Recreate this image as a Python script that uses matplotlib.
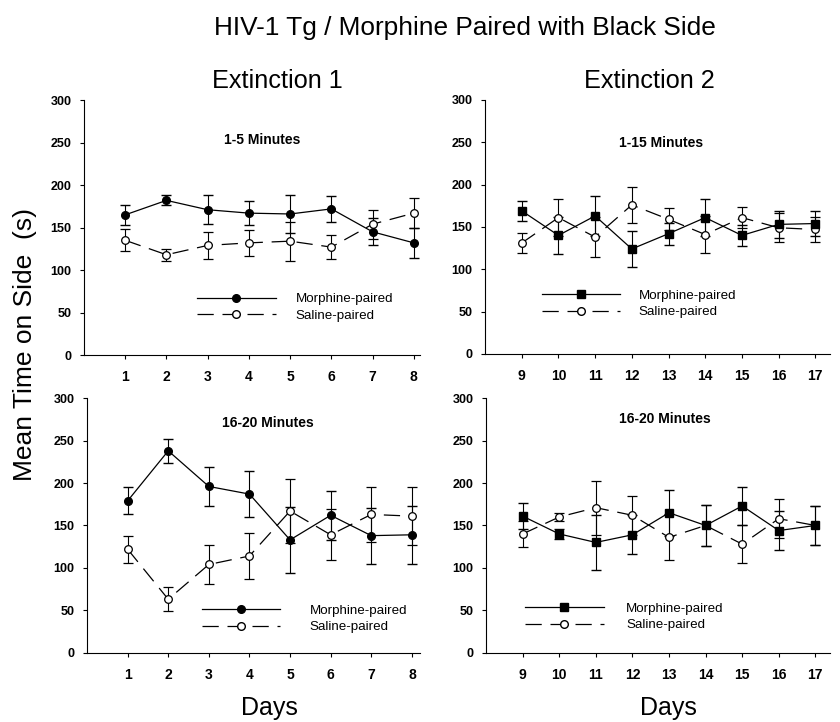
import numpy as np
import matplotlib
matplotlib.use("Agg")
import matplotlib.pyplot as plt
from matplotlib.lines import Line2D

plt.rcParams['font.family'] = ['Liberation Sans', 'DejaVu Sans']

# data
days_ext1 = [1, 2, 3, 4, 5, 6, 7, 8]
days_ext2 = [9, 10, 11, 12, 13, 14, 15, 16, 17]

# Extinction 1, 1-5 minutes
e1a_morph = [165, 182, 171, 167, 166, 172, 145, 132]
e1a_morph_err = [12, 6, 17, 14, 22, 15, 16, 18]
e1a_sal = [135, 118, 129, 132, 134, 127, 154, 167]
e1a_sal_err = [13, 7, 16, 15, 23, 14, 17, 18]

# Extinction 2, 1-15 minutes
e2a_morph = [169, 140, 163, 124, 142, 161, 140, 153, 154]
e2a_morph_err = [12, 22, 24, 21, 13, 22, 12, 16, 15]
e2a_sal = [131, 161, 138, 176, 159, 141, 161, 149, 147]
e2a_sal_err = [12, 22, 24, 21, 13, 22, 12, 17, 15]

# Extinction 1, 16-20 minutes
e1b_morph = [179, 238, 196, 187, 133, 162, 138, 139]
e1b_morph_err = [16, 14, 23, 27, 39, 29, 33, 34]
e1b_sal = [122, 63, 104, 114, 167, 139, 163, 161]
e1b_sal_err = [16, 14, 23, 27, 38, 30, 32, 34]

# Extinction 2, 16-20 minutes
e2b_morph = [161, 140, 130, 139, 165, 150, 173, 144, 150]
e2b_morph_err = [15, 6, 32, 23, 27, 24, 22, 23, 23]
e2b_sal = [140, 160, 171, 162, 136, 150, 128, 158, 150]
e2b_sal_err = [15, 5, 32, 23, 27, 24, 22, 23, 23]

yticks = [0, 50, 100, 150, 200, 250, 300]
series_names = ['Morphine-paired', 'Saline-paired']

fig = plt.figure(figsize=(8.4, 7.22), dpi=100)

# rect, days, morph, err, saline, err, subtitle, subtitle pos, marker, xlim, legend anchor, text pad
panels = [
    ([0.100, 0.5083, 0.400, 0.353], days_ext1, e1a_morph, e1a_morph_err, e1a_sal, e1a_sal_err,
     "1-5 Minutes", (0.531, 0.843), 'o', (0, 8.15), (0.336, 0.187), 1.5),
    ([0.5774, 0.5097, 0.4107, 0.352], days_ext2, e2a_morph, e2a_morph_err, e2a_sal, e2a_sal_err,
     "1-15 Minutes", (0.51, 0.83), 's', (8, 17.4), (0.164, 0.197), 1.4),
    ([0.1036, 0.096, 0.3964, 0.3524], days_ext1, e1b_morph, e1b_morph_err, e1b_sal, e1b_sal_err,
     "16-20 Minutes", (0.544, 0.902), 'o', (0, 8.2), (0.344, 0.132), 2.2),
    ([0.5786, 0.096, 0.4095, 0.3524], days_ext2, e2b_morph, e2b_morph_err, e2b_sal, e2b_sal_err,
     "16-20 Minutes", (0.519, 0.917), 's', (8, 17.4), (0.113, 0.140), 1.7),
]

dash = (0, (13, 7))

for rect, x, m, me, s, se, sub, subpos, mk, xl, anc, tpad in panels:
    ax = fig.add_axes(rect)
    ax.errorbar(x, s, yerr=se, color='black', lw=0.9, ls=dash, marker='o',
                ms=5.5, mfc='white', mec='black', mew=0.9, capsize=3.5, elinewidth=0.8)
    ax.errorbar(x, m, yerr=me, color='black', lw=0.9, ls='-', marker=mk,
                ms=5.5, mfc='black', mec='black', capsize=3.5, elinewidth=0.8)
    ax.set_xlim(*xl)
    ax.set_ylim(0, 300)
    ax.set_xticks(x)
    ax.set_yticks(yticks)
    ax.tick_params(axis='x', length=3, pad=8, labelsize=10, direction='out')
    ax.tick_params(axis='y', length=3, pad=6, labelsize=9, direction='out')
    for lab in ax.get_xticklabels() + ax.get_yticklabels():
        lab.set_fontweight('bold')
    for sp in ['top', 'right']:
        ax.spines[sp].set_visible(False)
    ax.text(subpos[0], subpos[1], sub, transform=ax.transAxes, ha='center', va='center',
            fontsize=10, fontweight='bold')
    handles = [
        Line2D([], [], color='black', lw=0.9, marker=mk, ms=5.5, mfc='black'),
        Line2D([], [], color='black', lw=0.9, ls=dash, marker='o', ms=5.5,
               mfc='white', mec='black'),
    ]
    ax.legend(handles, series_names, loc='center left', bbox_to_anchor=anc,
              frameon=False, fontsize=9.6, handlelength=5.9, handletextpad=tpad,
              numpoints=1, labelspacing=0.3, borderpad=0, borderaxespad=0)

fig.text(0.5536, 0.9515, "HIV-1 Tg / Morphine Paired with Black Side", ha='center', va='baseline', fontsize=18.9)
fig.text(0.3298, 0.8777, "Extinction 1", ha='center', va='baseline', fontsize=18.2)
fig.text(0.7732, 0.8777, "Extinction 2", ha='center', va='baseline', fontsize=18.2)
fig.text(0.3208, 0.0097, "Days", ha='center', va='baseline', fontsize=18)
fig.text(0.7958, 0.0097, "Days", ha='center', va='baseline', fontsize=18)
fig.text(0.0298, 0.5235, "Mean Time on Side  (s)", ha='center', va='center', rotation=90, fontsize=19)

fig.savefig("out.png", dpi=100)
